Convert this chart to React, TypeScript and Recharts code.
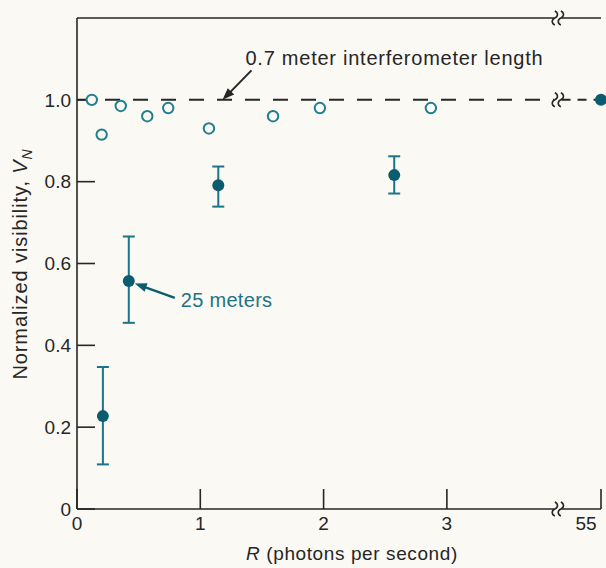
import {
  ScatterChart,
  Scatter,
  XAxis,
  YAxis,
  ErrorBar,
  ReferenceLine,
  ReferenceDot,
} from 'recharts';

// open circles: 0.7 m interferometer
const openR = [0.12, 0.2, 0.355, 0.57, 0.74, 1.07, 1.59, 1.97, 2.87];
const openV = [1.0, 0.915, 0.985, 0.96, 0.98, 0.93, 0.96, 0.98, 0.98];

// filled dots: 25 m, with error bars
const filledR = [0.21, 0.42, 1.146, 2.573];
const filledV = [0.227, 0.557, 0.791, 0.816];
const filledLow = [0.109, 0.455, 0.739, 0.771];
const filledHigh = [0.347, 0.666, 0.837, 0.862];

// beyond the axis break
const farR = [55];
const farV = [1.0];

const xTicks = [0, 1, 2, 3, 55];
const topTicks = [1, 2, 3];
const yTicks = [0, 0.2, 0.4, 0.6, 0.8, 1.0];

const BREAK_AT = 3.9;
const X_END = 4.25;
const Y_TOP = 1.2;
const toAxis = (r: number) => (r > BREAK_AT ? X_END : r);

const FONT = '"Liberation Sans", Arial, sans-serif';
const INK = '#262626';
const OPEN = '#1f7f91';
const FILLED = '#0c5c70';
const BG = '#fbf9f4';

const openData = openR.map((r, i) => ({ x: toAxis(r), y: openV[i] }));
const filledData = filledR.map((r, i) => ({
  x: toAxis(r),
  y: filledV[i],
  err: [filledV[i] - filledLow[i], filledHigh[i] - filledV[i]],
}));
const farData = farR.map((r, i) => ({ x: toAxis(r), y: farV[i] }));

const OpenDot = (p: any) => (
  <circle cx={p.cx} cy={p.cy} r={5.2} fill={BG} stroke={OPEN} strokeWidth={2} />
);
const FilledDot = (p: any) => <circle cx={p.cx} cy={p.cy} r={6} fill={FILLED} />;

const Squiggle = (p: any) => (
  <g stroke={INK} strokeWidth={1.6} fill="none">
    {[-3, 3].map((d) => (
      <path
        key={d}
        d={`M${p.cx + d},${p.cy - 7} c3.5,1.5 3.5,5.5 0,7 c-3.5,1.5 -3.5,5.5 0,7`}
      />
    ))}
  </g>
);

const LengthNote = (p: any) => (
  <g>
    <line x1={p.cx + 29} y1={p.cy - 29.5} x2={p.cx + 7} y2={p.cy - 7} stroke={INK} strokeWidth={2} />
    <path d={`M${p.cx},${p.cy} L${p.cx + 11.7},${p.cy - 5.3} L${p.cx + 5.3},${p.cy - 11.7} Z`} fill={INK} />
    <text x={p.cx + 23} y={p.cy - 34.5} fontSize={20} letterSpacing={0.75} fontFamily={FONT} fill={INK}>
      0.7 meter interferometer length
    </text>
  </g>
);

const MetersNote = (p: any) => (
  <g>
    <line x1={p.cx + 46} y1={p.cy + 16.8} x2={p.cx + 16} y2={p.cy + 6} stroke={FILLED} strokeWidth={2.2} />
    <path
      d={`M${p.cx + 6},${p.cy + 2.4} L${p.cx + 18.8},${p.cy + 2.2} L${p.cx + 15.8},${p.cy + 10.7} Z`}
      fill={FILLED}
    />
    <text x={p.cx + 52} y={p.cy + 25.7} fontSize={20} letterSpacing={0.3} fontFamily={FONT} fill="#1e7385">
      25 meters
    </text>
  </g>
);

const BottomTick = (p: any) => {
  const v = p.payload.value;
  const last = v === X_END;
  return (
    <text
      x={last ? p.x - 6 : p.x}
      y={p.y}
      dy="0.71em"
      textAnchor="middle"
      fontSize={19}
      fontFamily={FONT}
      fill={INK}
    >
      {last ? '55' : String(v)}
    </text>
  );
};

const YLabel = () => (
  <text
    x={27}
    y={264}
    transform="rotate(-90, 27, 264)"
    textAnchor="middle"
    fontSize={20}
    letterSpacing={0.9}
    fontFamily={FONT}
    fill={INK}
  >
    Normalized visibility,{' '}
    <tspan fontStyle="italic">V</tspan>
    <tspan fontStyle="italic" fontSize={14} dy={5}>
      N
    </tspan>
  </text>
);

const XLabel = () => (
  <text x={352} y={560} textAnchor="middle" fontSize={19} letterSpacing={0.6} fontFamily={FONT} fill={INK}>
    <tspan fontStyle="italic">R</tspan> (photons per second)
  </text>
);

const frame = { stroke: INK, strokeWidth: 1.6 };

export default function App() {
  return (
    <div style={{ position: 'absolute', left: 0, top: 0, width: 606, height: 568, background: BG }}>
      <ScatterChart width={606} height={568} margin={{ top: 18, right: 5, bottom: 0, left: 0 }}>
        <XAxis
          xAxisId="bottom"
          type="number"
          dataKey="x"
          domain={[0, X_END]}
          ticks={xTicks.map(toAxis)}
          height={59}
          axisLine={false}
          tickSize={-20}
          tickMargin={28}
          tickLine={frame}
          tick={<BottomTick />}
          label={<XLabel />}
        />
        <XAxis
          xAxisId="top"
          orientation="top"
          type="number"
          dataKey="x"
          domain={[0, X_END]}
          ticks={topTicks}
          height={0}
          axisLine={false}
          tickSize={-15}
          tickLine={frame}
          tickFormatter={() => ''}
        />
        <YAxis
          yAxisId="left"
          type="number"
          dataKey="y"
          domain={[0, Y_TOP]}
          ticks={yTicks}
          width={77}
          axisLine={frame}
          tickLine={frame}
          tickSize={-18}
          tickMargin={24}
          tick={{ fontSize: 19, fill: INK, fontFamily: FONT }}
          tickFormatter={(v: number) => (v === 0 ? '0' : v.toFixed(1))}
          label={<YLabel />}
        />
        <YAxis
          yAxisId="right"
          orientation="right"
          type="number"
          dataKey="y"
          domain={[0, Y_TOP]}
          ticks={yTicks}
          width={0}
          axisLine={frame}
          tickLine={frame}
          tickSize={-20}
          tickFormatter={() => ''}
        />

        {/* broken top and bottom frame, broken dashed reference */}
        <ReferenceLine xAxisId="bottom" yAxisId="left" segment={[{ x: 0, y: 0 }, { x: 3.87, y: 0 }]} {...frame} ifOverflow="visible" />
        <ReferenceLine xAxisId="bottom" yAxisId="left" segment={[{ x: 3.93, y: 0 }, { x: X_END, y: 0 }]} {...frame} ifOverflow="visible" />
        <ReferenceLine xAxisId="bottom" yAxisId="left" segment={[{ x: 0, y: Y_TOP }, { x: 3.87, y: Y_TOP }]} {...frame} ifOverflow="visible" />
        <ReferenceLine xAxisId="bottom" yAxisId="left" segment={[{ x: 3.93, y: Y_TOP }, { x: X_END, y: Y_TOP }]} {...frame} ifOverflow="visible" />
        <ReferenceLine xAxisId="bottom" yAxisId="left" segment={[{ x: 0, y: 1 }, { x: 3.87, y: 1 }]} stroke={INK} strokeWidth={2} strokeDasharray="15 13" ifOverflow="visible" />
        <ReferenceLine xAxisId="bottom" yAxisId="left" segment={[{ x: 3.93, y: 1 }, { x: X_END, y: 1 }]} stroke={INK} strokeWidth={2} strokeDasharray="9 7" ifOverflow="visible" />
        {[0, 1, Y_TOP].map((y) => (
          <ReferenceDot key={y} xAxisId="bottom" yAxisId="left" x={BREAK_AT} y={y} shape={<Squiggle />} ifOverflow="visible" />
        ))}

        <Scatter xAxisId="bottom" yAxisId="left" data={openData} shape={<OpenDot />} isAnimationActive={false} />
        <Scatter xAxisId="bottom" yAxisId="left" data={filledData} shape={<FilledDot />} isAnimationActive={false}>
          <ErrorBar dataKey="err" direction="y" width={6} stroke="#1b7487" strokeWidth={2} isAnimationActive={false} />
        </Scatter>
        <Scatter xAxisId="bottom" yAxisId="left" data={farData} shape={<FilledDot />} isAnimationActive={false} />

        <ReferenceDot xAxisId="bottom" yAxisId="left" x={1.18} y={1} shape={<LengthNote />} ifOverflow="visible" />
        <ReferenceDot xAxisId="bottom" yAxisId="left" x={filledR[1]} y={filledV[1]} shape={<MetersNote />} ifOverflow="visible" />
      </ScatterChart>
    </div>
  );
}
